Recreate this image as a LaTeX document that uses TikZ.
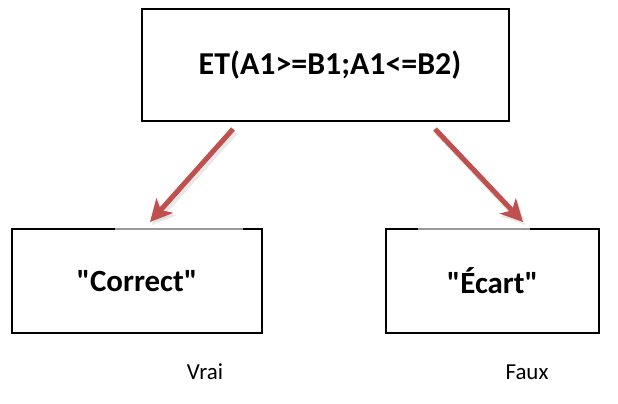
\documentclass[tikz,border=0pt]{standalone}
\usepackage{fontspec}
\setmainfont{Carlito}[Ligatures=TeXOff]
\usetikzlibrary{arrows.meta}
\definecolor{arrred}{HTML}{C0504D}
\definecolor{shade}{HTML}{9A9A9A}
\tikzset{
  box/.style={draw=black, line width=2bp, minimum width=#1, inner sep=0pt},
  boxlbl/.style={font=\bfseries\fontsize{31}{36}\selectfont},
  toplbl/.style={font=\bfseries\fontsize{32}{38}\selectfont},
  caption/.style={font=\fontsize{23}{27}\selectfont},
  redarrow/.style={draw=arrred, line width=5bp, -{Stealth[length=22bp, width=22bp, inset=6bp]}},
  shadowarrow/.style={draw=black!20, line width=6bp, opacity=0.45, -{Stealth[length=23bp, width=23bp, inset=6bp]}},
  topline/.style={draw=shade, line width=2bp}
}
\begin{document}
\begin{tikzpicture}[x=1bp, y=-1bp]
\useasboundingbox (0,0) rectangle (618,403);
% boxes
\node[box=367bp, minimum height=112bp] (top) at (325,65) {};
\node[toplbl] (toptext) at (330,65) {ET(A1>=B1;A1<=B2)};
\node[box=250bp, minimum height=104bp, boxlbl] (vrai) at (137,281) {"Correct"};
\node[box=213bp, minimum height=104bp, boxlbl] (faux) at (492.5,281) {"Écart"};
% gray overlays on top edges
\coordinate (lg1) at (115,229);
\coordinate (lg2) at (243,229);
\coordinate (rg1) at (418,229);
\coordinate (rg2) at (530,229);
\draw[topline] (lg1) -- (lg2);
\draw[topline] (rg1) -- (rg2);
% arrows
\coordinate (as) at (233,129);
\coordinate (ae) at (150,222);
\coordinate (bs) at (435,129);
\coordinate (be) at (523,222);
\draw[shadowarrow] ([shift={(2,3)}]as) -- ([shift={(2,3)}]ae);
\draw[shadowarrow] ([shift={(2,3)}]bs) -- ([shift={(2,3)}]be);
\draw[redarrow] (as) -- (ae);
\draw[redarrow] (bs) -- (be);
% captions
\node[caption] (cv) at (205,372) {Vrai};
\node[caption] (cf) at (527,372) {Faux};
\end{tikzpicture}
\end{document}
